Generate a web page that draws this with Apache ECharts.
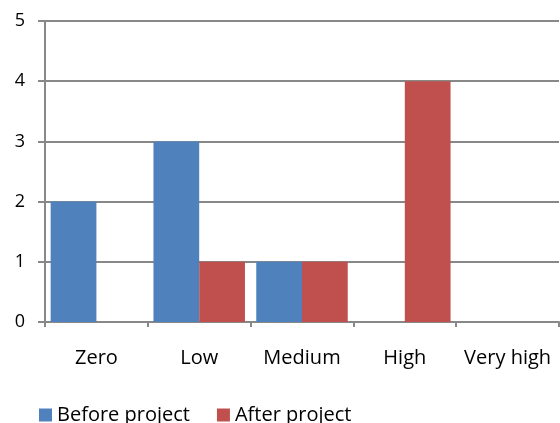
<!DOCTYPE html>
<html>
<head>
<meta charset="utf-8">
<script src="https://cdn.jsdelivr.net/npm/echarts@6/dist/echarts.min.js"></script>
<style>
  html, body { margin: 0; padding: 0; background: #fff; }
  #chart { width: 560px; height: 423px; }
</style>
</head>
<body>
<div id="chart"></div>
<script>
// Categories and series
const categories = ['Zero', 'Low', 'Medium', 'High', 'Very high'];
const beforeProject = [2, 3, 1, 0, 0];
const afterProject = [0, 1, 1, 4, 0];
const seriesNames = ['Before project', 'After project'];

const FONT = '"Open Sans", sans-serif';
const GRID = '#888888';

const chart = echarts.init(document.getElementById('chart'), null, { renderer: 'canvas' });
chart.setOption({
  animation: false,
  textStyle: { fontFamily: FONT },
  grid: { left: 45, right: 1, top: 21, bottom: 101, containLabel: false },
  legend: {
    left: 39, top: 405, padding: 0,
    itemWidth: 13, itemHeight: 13, itemGap: 27,
    icon: 'rect',
    textStyle: { fontFamily: FONT, fontSize: 20, color: '#000' },
    data: seriesNames
  },
  xAxis: {
    type: 'category',
    data: categories,
    axisLine: { lineStyle: { color: GRID, width: 2 } },
    axisTick: { show: true, interval: 0, length: 5, lineStyle: { color: GRID, width: 2 }, alignWithLabel: false },
    axisLabel: { interval: 0, hideOverlap: false, color: '#000', fontSize: 20, fontFamily: FONT, margin: 26 }
  },
  yAxis: {
    type: 'value',
    min: 0, max: 5, interval: 1,
    axisLine: { show: true, lineStyle: { color: GRID, width: 2 } },
    axisTick: { show: true, length: 7, lineStyle: { color: GRID, width: 2 } },
    axisLabel: { color: '#000', fontSize: 18, fontFamily: FONT, margin: 20 },
    splitLine: { lineStyle: { color: GRID, width: 2 } }
  },
  series: [
    {
      name: seriesNames[0], type: 'bar', data: beforeProject,
      itemStyle: { color: '#4F81BD' },
      barGap: '0%', barCategoryGap: '11%'
    },
    {
      name: seriesNames[1], type: 'bar', data: afterProject,
      itemStyle: { color: '#C0504D' },
      barGap: '0%', barCategoryGap: '11%'
    }
  ]
});
</script>
</body>
</html>
